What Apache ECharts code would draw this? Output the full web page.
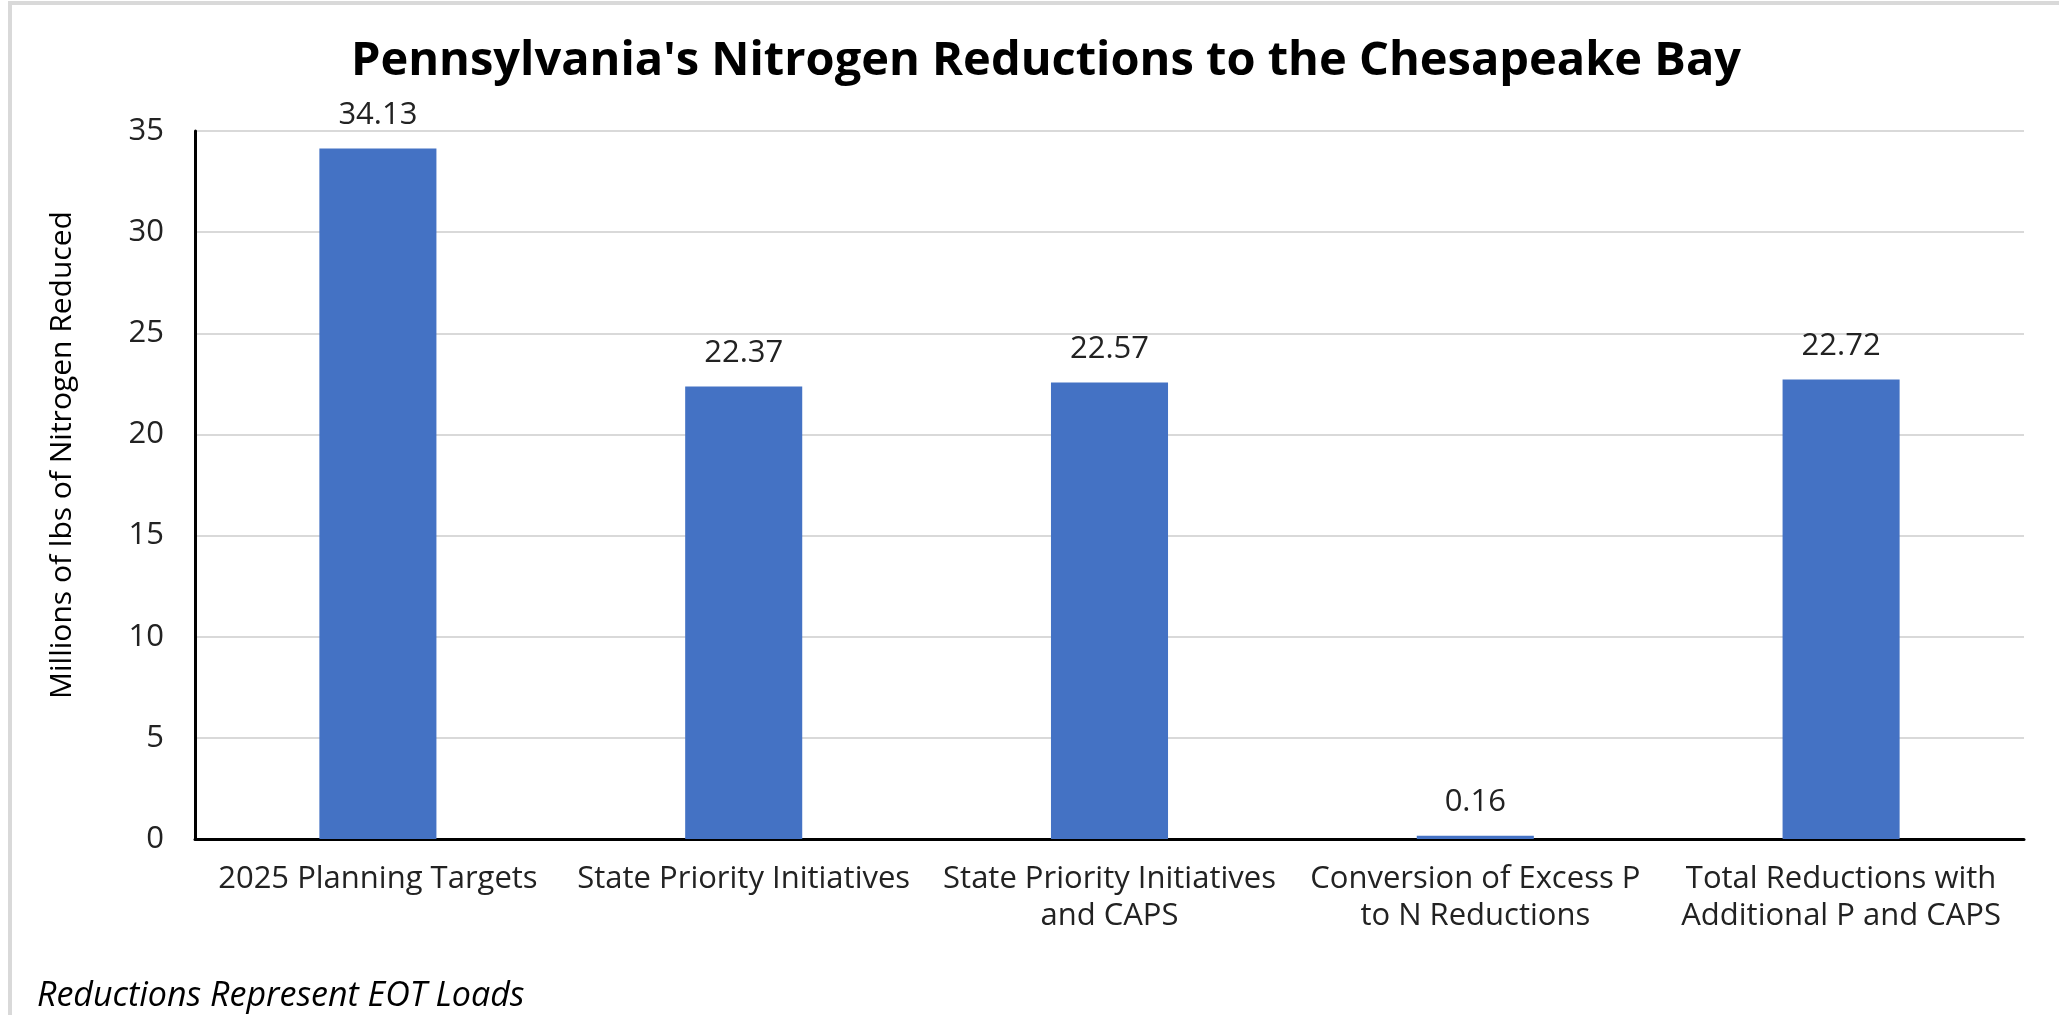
<!DOCTYPE html>
<html>
<head>
<meta charset="utf-8">
<script src="https://cdn.jsdelivr.net/npm/echarts@6/dist/echarts.min.js"></script>
<style>
html,body{margin:0;padding:0;background:#fff;}
#chart{width:2059px;height:1015px;}
</style>
</head>
<body>
<div id="chart"></div>
<script>
var categories = [
  "2025 Planning Targets",
  "State Priority Initiatives",
  "State Priority Initiatives\nand CAPS",
  "Conversion of Excess P\nto N Reductions",
  "Total Reductions with\nAdditional P and CAPS"
];
var values = [34.13, 22.37, 22.57, 0.16, 22.72];
var yTicks = { min: 0, max: 35, interval: 5 };
var titleText = "Pennsylvania's Nitrogen Reductions to the Chesapeake Bay";
var yAxisTitle = "Millions of lbs of Nitrogen Reduced";
var footnote = "Reductions Represent EOT Loads";

var chart = echarts.init(document.getElementById('chart'));
chart.setOption({
  backgroundColor: '#ffffff',
  animation: false,
  graphic: [
    { type: 'rect', shape: { x: 10, y: 3, width: 2100, height: 1100 }, style: { fill: 'none', stroke: '#d9d9d9', lineWidth: 4 }, silent: true },
    { type: 'text', x: 1046, y: 62, style: { text: titleText, fontFamily: 'Open Sans', fontWeight: 'bold', fontSize: 47, fill: '#000', textAlign: 'center', textVerticalAlign: 'middle' } },
    { type: 'text', x: 37, y: 996, style: { text: footnote, fontFamily: 'Open Sans', fontStyle: 'italic', fontSize: 34, fill: '#000', textAlign: 'left', textVerticalAlign: 'middle' } },
    { type: 'text', x: 62, y: 455, rotation: Math.PI / 2, style: { text: yAxisTitle, fontFamily: 'Open Sans', fontSize: 30, fill: '#000', textAlign: 'center', textVerticalAlign: 'middle' } }
  ],
  grid: { left: 195, top: 131, right: 35, bottom: 176, containLabel: false },
  xAxis: {
    type: 'category',
    data: categories,
    axisLine: { show: true, lineStyle: { color: '#000', width: 3 } },
    axisTick: { show: false },
    axisLabel: { interval: 0, margin: 22, fontFamily: 'Open Sans', fontSize: 31, color: '#222', lineHeight: 37 }
  },
  yAxis: {
    type: 'value',
    min: yTicks.min, max: yTicks.max, interval: yTicks.interval,
    axisLine: { show: true, lineStyle: { color: '#000', width: 3 } },
    axisTick: { show: false },
    axisLabel: { margin: 31, fontFamily: 'Open Sans', fontSize: 31, color: '#222' },
    splitLine: { show: true, lineStyle: { color: '#d9d9d9', width: 2 } }
  },
  series: [{
    type: 'bar',
    data: values,
    barWidth: '32%',
    itemStyle: { color: '#4472C4' },
    label: { show: true, position: 'top', distance: 18, fontFamily: 'Open Sans', fontSize: 31, color: '#222' }
  }]
});
</script>
</body>
</html>
